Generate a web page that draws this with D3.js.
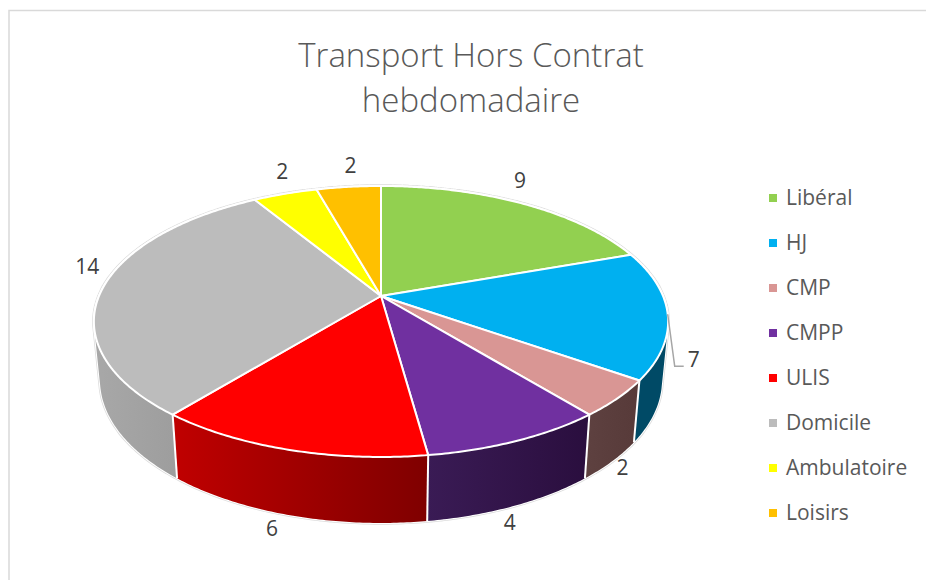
<!DOCTYPE html>
<html>
<head>
<meta charset="utf-8">
<style>
  html, body { margin: 0; padding: 0; background: #fff; }
  svg { display: block; }
  text { font-family: "Open Sans", "Noto Sans", sans-serif; }
</style>
<script src="https://cdn.jsdelivr.net/npm/d3@7"></script>
</head>
<body>
<div id="plot"></div>
<script>
const categories = ['Libéral', 'HJ', 'CMP', 'CMPP', 'ULIS', 'Domicile', 'Ambulatoire', 'Loisirs'];
const counts = [9, 7, 2, 4, 6, 14, 2, 2];
const topColors = ['#92d050', '#00b0f0', '#d99694', '#7030a0', '#ff0000', '#bcbcbc', '#ffff00', '#ffc000'];
const wallLeft = ['#92d050', '#004a66', '#5e4140', '#3a1b55', '#c00000', '#a8a8a8', '#ffff00', '#ffc000'];
const wallRight = ['#92d050', '#004a66', '#573a39', '#2a0e3e', '#7f0000', '#939393', '#ffff00', '#ffc000'];
const titleLines = ['Transport Hors Contrat', 'hebdomadaire'];

// label nudges from the rim point, [rim, dx, dy]. rim 0 = top edge, 1 = bottom edge
const labelSpots = [[0, -2, -23], [0, 26, 45], [1, 10, 7], [1, -4, 17], [1, -18, 13], [0, -16, -21], [0, -3, -22], [0, 2, -21]];

const width = 926, height = 580;

// the pie is drawn in perspective, so near slices look bigger
// top and bottom rims use the same tilt but different sizes
const tilt = 0.188;
const topRim = { cx: 381, cy: 296, a: 282, b: 130.7 };
const bottomRim = { cx: 381, cy: 353, a: 276, b: 138 };

function project(rim, angle) {
  const u = Math.sin(angle), v = Math.cos(angle);
  const den = 1 + tilt * v;
  return [rim.cx + rim.a * u / den, rim.cy - rim.b * v / den];
}

function arcPoints(rim, a0, a1) {
  const n = Math.max(2, Math.ceil((a1 - a0) / 0.01));
  return d3.range(n + 1).map(i => project(rim, a0 + (a1 - a0) * i / n));
}

// wall as many thin quads all wound the same way, so the fold at the
// sides of the pie doesn't cancel itself out under nonzero fill
function wallPath(a0, a1) {
  const t = arcPoints(topRim, a0, a1), b = arcPoints(bottomRim, a0, a1);
  let d = '';
  for (let i = 0; i < t.length - 1; i++) {
    let quad = [t[i], t[i + 1], b[i + 1], b[i]];
    if (d3.polygonArea(quad) < 0) quad = quad.reverse();
    d += line(quad) + 'Z';
  }
  return d;
}

const slices = d3.pie().sort(null).value(d => d)(counts);
const line = d3.line();

const svg = d3.select('#plot').append('svg')
  .attr('width', width)
  .attr('height', height);

const defs = svg.append('defs');

// chart frame runs off the picture at right and bottom
svg.append('rect')
  .attr('x', 9).attr('y', 10.5)
  .attr('width', width).attr('height', height)
  .attr('fill', '#fff')
  .attr('stroke', '#d9d9d9')
  .attr('stroke-width', 1.5);

svg.append('g').selectAll('text')
  .data(titleLines)
  .join('text')
  .attr('x', 471)
  .attr('y', (d, i) => 67 + i * 45)
  .attr('text-anchor', 'middle')
  .attr('font-size', 33)
  .attr('font-weight', 300)
  .attr('fill', '#595959')
  .text(d => d);

// faint outline round the whole body, then a white edge inside it
const bodyPath = wallPath(0, 2 * Math.PI);
svg.append('path')
  .attr('d', bodyPath)
  .attr('fill', '#fff').attr('stroke', '#dcdcdc').attr('stroke-width', 3.5);
svg.append('path')
  .attr('d', bodyPath)
  .attr('fill', '#fff').attr('stroke', '#fff').attr('stroke-width', 2);

// walls, only the front slices show
const front = slices.filter(s => s.index >= 1 && s.index <= 5);

front.forEach(s => {
  const g = defs.append('linearGradient').attr('id', 'wall' + s.index);
  g.append('stop').attr('offset', '0%').attr('stop-color', wallLeft[s.index]);
  g.append('stop').attr('offset', '100%').attr('stop-color', wallRight[s.index]);
});

svg.append('g').selectAll('path')
  .data(front)
  .join('path')
  .attr('d', s => wallPath(s.startAngle, s.endAngle))
  .attr('fill', s => 'url(#wall' + s.index + ')');

// white seams between the walls
svg.append('g').selectAll('path')
  .data(front)
  .join('path')
  .attr('d', s => line([project(topRim, s.endAngle), project(bottomRim, s.endAngle)]))
  .attr('fill', 'none')
  .attr('stroke', '#fff')
  .attr('stroke-width', 2);

// top face
svg.append('g').selectAll('path')
  .data(slices)
  .join('path')
  .attr('d', s => line([[topRim.cx, topRim.cy]].concat(arcPoints(topRim, s.startAngle, s.endAngle))) + 'Z')
  .attr('fill', s => topColors[s.index])
  .attr('stroke', '#fff')
  .attr('stroke-width', 2)
  .attr('stroke-linejoin', 'round');

// data labels
const midAngle = s => (s.startAngle + s.endAngle) / 2;
const labelPos = s => {
  const spot = labelSpots[s.index];
  const p = project(spot[0] ? bottomRim : topRim, midAngle(s));
  return [p[0] + spot[1], p[1] + spot[2]];
};

svg.append('g').selectAll('text')
  .data(slices)
  .join('text')
  .attr('x', s => labelPos(s)[0])
  .attr('y', s => labelPos(s)[1])
  .attr('dy', '0.35em')
  .attr('text-anchor', 'middle')
  .attr('font-size', 21)
  .attr('fill', '#404040')
  .text(s => s.data);

// leader line for the HJ label
const hj = slices[1];
const hjStart = project(topRim, midAngle(hj));
svg.append('path')
  .attr('d', line([hjStart, [hjStart[0] + 7, hjStart[1] + 52], [hjStart[0] + 16, hjStart[1] + 52]]))
  .attr('fill', 'none')
  .attr('stroke', '#a6a6a6')
  .attr('stroke-width', 1.5);

// legend
const legendY = d3.scalePoint().domain(categories).range([198, 513]);
const legend = svg.append('g').selectAll('g')
  .data(categories)
  .join('g')
  .attr('transform', d => 'translate(769,' + legendY(d) + ')');

legend.append('rect')
  .attr('x', 0).attr('y', -4)
  .attr('width', 8).attr('height', 8)
  .attr('fill', (d, i) => topColors[i]);

legend.append('text')
  .attr('x', 17)
  .attr('dy', '0.35em')
  .attr('font-size', 21)
  .attr('fill', '#595959')
  .text(d => d);
</script>
</body>
</html>
